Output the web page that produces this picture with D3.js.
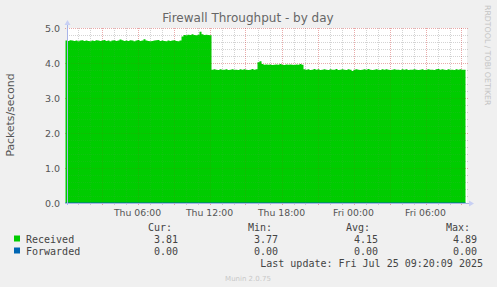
<!DOCTYPE html>
<html>
<head>
<meta charset="utf-8">
<script src="https://cdn.jsdelivr.net/npm/d3@7"></script>
<style>
  html, body { margin: 0; padding: 0; background: #f0f0f0; }
  svg { display: block; }
  text { font-family: "DejaVu Sans", sans-serif; }
  .mono { font-family: "DejaVu Sans Mono", monospace; }
</style>
</head>
<body>
<script>
// samples every 10 minutes, Thu 00:10 -> Fri 09:20
var start_time = new Date(2025, 6, 24, 0, 10, 0);
var step_minutes = 10;

var received = [
  4.64, 4.63, 4.65, 4.64, 4.63, 4.64, 4.62, 4.64, 4.65, 4.63, 4.64, 4.63, 4.62, 4.64, 4.63, 4.65, 4.64, 4.63, 4.64, 4.66,
  4.63, 4.64, 4.62, 4.64, 4.65, 4.63, 4.64, 4.67, 4.65, 4.63, 4.64, 4.63, 4.65, 4.64, 4.62, 4.64, 4.66, 4.63, 4.64, 4.68,
  4.64, 4.63, 4.62, 4.63, 4.64, 4.65, 4.66, 4.63, 4.64, 4.63, 4.62, 4.64, 4.63, 4.64, 4.65, 4.63, 4.62, 4.64,
  4.76, 4.80, 4.79, 4.81, 4.80, 4.82, 4.80, 4.79, 4.81, 4.89, 4.82, 4.80, 4.81, 4.80, 4.79,
  3.81, 3.82, 3.81, 3.80, 3.82, 3.81, 3.81, 3.82, 3.80, 3.81, 3.82, 3.81, 3.81, 3.80, 3.82, 3.81, 3.82, 3.81, 3.80, 3.81, 3.83, 3.81, 3.82,
  4.02, 4.05, 3.97, 3.95, 3.96, 3.95, 3.96, 3.94, 3.95, 3.96, 3.95, 3.97, 3.95, 3.94, 3.96, 3.95, 3.96, 3.95, 3.94, 3.96, 3.95, 3.97, 3.95,
  3.82, 3.81, 3.82, 3.80, 3.81, 3.83, 3.81, 3.82, 3.80, 3.81, 3.82, 3.81, 3.80, 3.82, 3.81, 3.81, 3.83, 3.80, 3.81, 3.82,
  3.81, 3.80, 3.82, 3.81, 3.77, 3.81, 3.82, 3.81, 3.80, 3.81, 3.82, 3.81, 3.83, 3.81, 3.80, 3.81, 3.82, 3.81, 3.80, 3.82,
  3.81, 3.82, 3.81, 3.80, 3.81, 3.82, 3.81, 3.81, 3.80, 3.82, 3.81, 3.82, 3.80, 3.81, 3.81, 3.82, 3.81, 3.80, 3.81, 3.82,
  3.80, 3.81, 3.82, 3.81, 3.81, 3.80, 3.82, 3.83, 3.81, 3.82, 3.81, 3.80, 3.82, 3.81, 3.81, 3.80, 3.82, 3.81, 3.82, 3.81,
  3.81
];
var forwarded_value = 0.0;

var y_ticks = [0, 1, 2, 3, 4, 5];
var x_tick_labels = ["Thu 06:00", "Thu 12:00", "Thu 18:00", "Fri 00:00", "Fri 06:00"];
var x_tick_times = [
  new Date(2025, 6, 24, 6, 0), new Date(2025, 6, 24, 12, 0), new Date(2025, 6, 24, 18, 0),
  new Date(2025, 6, 25, 0, 0), new Date(2025, 6, 25, 6, 0)
];

var legend_names = ["Received", "Forwarded"];
var legend_colors = ["#00cc00", "#0066b3"];
var legend_headers = ["Cur:", "Min:", "Avg:", "Max:"];
var legend_values = [
  ["3.81", "3.77", "4.15", "4.89"],
  ["0.00", "0.00", "0.00", "0.00"]
];

var W = 497, H = 287;
var plot = {left: 67, right: 467, top: 28, bottom: 203};

var svg = d3.select("body").append("svg")
    .attr("width", W).attr("height", H);

svg.append("rect").attr("width", W).attr("height", H).attr("fill", "#f0f0f0");

// 400 px wide, 12 px per hour
var t0 = new Date(2025, 6, 24, 0, 7, 30);
var t1 = new Date(t0.getTime() + 400 / 12 * 3600 * 1000);
var x = d3.scaleTime().domain([t0, t1]).range([plot.left, plot.right]);
var y = d3.scaleLinear().domain([0, 5]).range([plot.bottom, plot.top]);

svg.append("rect")
    .attr("x", plot.left).attr("y", plot.top)
    .attr("width", plot.right - plot.left).attr("height", plot.bottom - plot.top)
    .attr("fill", "#ffffff");

var minor_h = d3.range(0, 5.01, 0.2).filter(function(v) { return Math.abs(v - Math.round(v)) > 0.01; });
var hours = d3.timeHour.range(d3.timeHour.ceil(t0), t1).filter(function(d) { return d.getHours() % 3 !== 0; });
var majors = d3.timeHour.every(3).range(d3.timeHour.ceil(t0), t1);

// grid: drawn once under the area (shows on white) and once faintly on top
function draw_grid(op_scale) {
    var g = svg.append("g").attr("shape-rendering", "crispEdges");
    var minor_col = "#8c8c8c", major_col = "#c81e1e";

    g.selectAll(".hminor").data(minor_h).enter().append("line")
        .attr("x1", plot.left).attr("x2", plot.right + 2)
        .attr("y1", function(d) { return Math.round(y(d)) + 0.5; })
        .attr("y2", function(d) { return Math.round(y(d)) + 0.5; })
        .attr("stroke", minor_col).attr("stroke-opacity", 0.3 * op_scale).attr("stroke-dasharray", "1,1");

    g.selectAll(".vminor").data(hours).enter().append("line")
        .attr("x1", function(d) { return Math.round(x(d)) + 0.5; })
        .attr("x2", function(d) { return Math.round(x(d)) + 0.5; })
        .attr("y1", plot.top).attr("y2", plot.bottom + 2)
        .attr("stroke", minor_col).attr("stroke-opacity", 0.3 * op_scale).attr("stroke-dasharray", "1,1");

    g.selectAll(".hmajor").data(y_ticks).enter().append("line")
        .attr("x1", plot.left - 2).attr("x2", plot.right + 2)
        .attr("y1", function(d) { return Math.round(y(d)) + 0.5; })
        .attr("y2", function(d) { return Math.round(y(d)) + 0.5; })
        .attr("stroke", major_col).attr("stroke-opacity", 0.3 * op_scale).attr("stroke-dasharray", "1,1");

    g.selectAll(".vmajor").data(majors).enter().append("line")
        .attr("x1", function(d) { return Math.round(x(d)) + 0.5; })
        .attr("x2", function(d) { return Math.round(x(d)) + 0.5; })
        .attr("y1", plot.top).attr("y2", plot.bottom + 2)
        .attr("stroke", major_col).attr("stroke-opacity", 0.3 * op_scale).attr("stroke-dasharray", "1,1");
}

draw_grid(1);

// data points
var points = received.map(function(v, i) {
    return {t: new Date(start_time.getTime() + i * step_minutes * 60000), v: v};
});
var first = {t: new Date(points[0].t.getTime() - step_minutes * 60000), v: points[0].v};
var series = [first].concat(points);

var area = d3.area()
    .curve(d3.curveStepBefore)
    .x(function(d) { return x(d.t); })
    .y0(y(0))
    .y1(function(d) { return y(d.v); });

svg.append("path")
    .datum(series)
    .attr("d", area)
    .attr("fill", legend_colors[0]);

// forwarded is flat zero, drawn as a line on the baseline
svg.append("line")
    .attr("x1", x(first.t)).attr("x2", x(points[points.length - 1].t))
    .attr("y1", y(forwarded_value)).attr("y2", y(forwarded_value))
    .attr("stroke", legend_colors[1]).attr("stroke-width", 1);

draw_grid(0.35);

// axes lines + arrows
svg.append("line")
    .attr("x1", plot.left - 2).attr("x2", plot.right + 2)
    .attr("y1", plot.bottom + 0.5).attr("y2", plot.bottom + 0.5)
    .attr("stroke", "#a8b4e8");
svg.append("line")
    .attr("x1", plot.left + 0.5).attr("x2", plot.left + 0.5)
    .attr("y1", plot.bottom + 2).attr("y2", plot.top - 4)
    .attr("stroke", "#a8b4e8");
svg.append("path")
    .attr("d", "M" + (plot.right + 2) + "," + (plot.bottom - 2.5) + "L" + (plot.right + 7) + "," + (plot.bottom + 0.5) +
               "L" + (plot.right + 2) + "," + (plot.bottom + 3.5) + "Z")
    .attr("fill", "#c8d0f4");
svg.append("path")
    .attr("d", "M" + (plot.left - 2.5) + "," + (plot.top - 3) + "L" + (plot.left + 0.5) + "," + (plot.top - 8) +
               "L" + (plot.left + 3.5) + "," + (plot.top - 3) + "Z")
    .attr("fill", "#c8d0f4");

// y tick labels
svg.selectAll(".ylab").data(y_ticks).enter().append("text")
    .attr("x", plot.left - 7)
    .attr("y", function(d) { return y(d) + 3.5; })
    .attr("text-anchor", "end")
    .attr("font-size", "9.5px")
    .attr("fill", "#555")
    .text(function(d) { return d3.format(".1f")(d); });

// x tick labels
svg.selectAll(".xlab").data(x_tick_times).enter().append("text")
    .attr("x", function(d) { return x(d); })
    .attr("y", plot.bottom + 12.5)
    .attr("text-anchor", "middle")
    .attr("font-size", "9.3px")
    .attr("fill", "#555")
    .text(function(d, i) { return x_tick_labels[i]; });

// title
svg.append("text")
    .attr("x", 248).attr("y", 22)
    .attr("text-anchor", "middle")
    .attr("font-size", "12px")
    .attr("fill", "#666")
    .text("Firewall Throughput - by day");

// y axis label
svg.append("text")
    .attr("transform", "translate(14,115) rotate(-90)")
    .attr("text-anchor", "middle")
    .attr("font-size", "10.8px")
    .attr("fill", "#555")
    .text("Packets/second");

// watermark
svg.append("text")
    .attr("transform", "translate(485,5) rotate(90)")
    .attr("font-size", "7.8px")
    .attr("fill", "#c4c4c4")
    .text("RRDTOOL / TOBI OETIKER");

// legend
var col_right = [178, 278, 378, 477];
var head_right = [172, 272, 370, 470];
var leg = svg.append("g").attr("class", "mono").attr("font-size", "10px").attr("fill", "#444");

leg.selectAll(".hdr").data(legend_headers).enter().append("text")
    .attr("class", "mono")
    .attr("x", function(d, i) { return head_right[i]; })
    .attr("y", 231)
    .attr("text-anchor", "end")
    .text(function(d) { return d; });

legend_names.forEach(function(name, r) {
    var yy = 243 + r * 12;
    leg.append("rect")
        .attr("x", 14).attr("y", yy - 7.5)
        .attr("width", 6).attr("height", 6)
        .attr("fill", legend_colors[r]);
    leg.append("text").attr("class", "mono")
        .attr("x", 26).attr("y", yy)
        .text(name);
    leg.selectAll(".v" + r).data(legend_values[r]).enter().append("text")
        .attr("class", "mono")
        .attr("x", function(d, i) { return col_right[i]; })
        .attr("y", yy)
        .attr("text-anchor", "end")
        .text(function(d) { return d; });
});

leg.append("text").attr("class", "mono")
    .attr("x", 483).attr("y", 267)
    .attr("text-anchor", "end")
    .text("Last update: Fri Jul 25 09:20:09 2025");

svg.append("text")
    .attr("x", 248).attr("y", 281)
    .attr("text-anchor", "middle")
    .attr("font-size", "7px")
    .attr("fill", "#c8c8c8")
    .text("Munin 2.0.75");
</script>
</body>
</html>
